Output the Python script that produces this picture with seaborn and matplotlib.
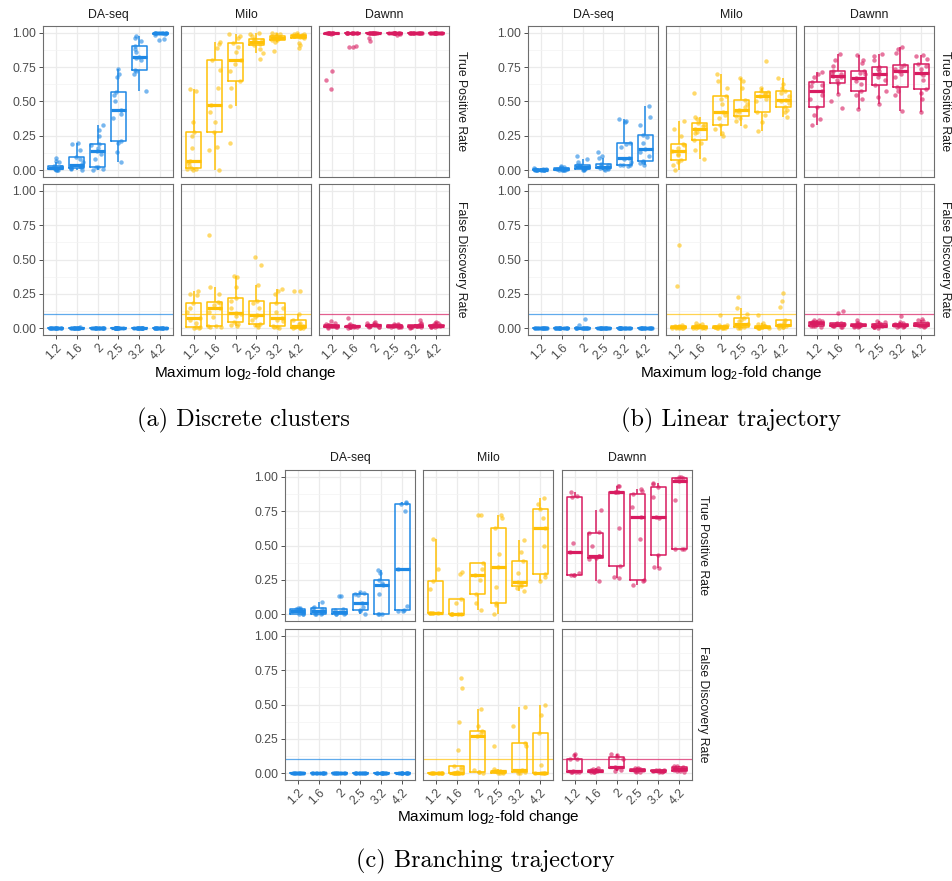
import numpy as np
import pandas as pd
import matplotlib
matplotlib.use("Agg")
import matplotlib.pyplot as plt
import seaborn as sns

# ---------------- data ----------------
FOLDS = ["1.2", "1.6", "2", "2.5", "3.2", "4.2"]
METHODS = ["DA-seq", "Milo", "Dawnn"]
METRICS = ["True Positive Rate", "False Discovery Rate"]
COLORS = ["#1E88E5", "#FFC107", "#D81B60"]
FDR_LINE = 0.1
Y_TICKS = [0.0, 0.25, 0.5, 0.75, 1.0]
Y_TICK_LABELS = ["0.00", "0.25", "0.50", "0.75", "1.00"]
CAPTIONS = ["(a) Discrete clusters", "(b) Linear trajectory", "(c) Branching trajectory"]
X_TITLE = "Maximum log$_2$-fold change"

# (a) Discrete clusters
A_TPR_DASEQ = [
    [0.0, 0.0, 0.003, 0.005, 0.01, 0.012, 0.015, 0.02, 0.025, 0.03, 0.06, 0.07, 0.09],
    [0.0, 0.01, 0.012, 0.015, 0.025, 0.03, 0.036, 0.06, 0.08, 0.097, 0.15, 0.19, 0.195],
    [0.0, 0.01, 0.02, 0.024, 0.08, 0.12, 0.136, 0.16, 0.18, 0.19, 0.25, 0.29, 0.33],
    [0.06, 0.13, 0.2, 0.214, 0.38, 0.41, 0.438, 0.5, 0.55, 0.567, 0.68, 0.7, 0.737],
    [0.574, 0.7, 0.72, 0.732, 0.8, 0.82, 0.827, 0.86, 0.88, 0.903, 0.94, 0.96, 0.976],
    [0.95, 0.952, 0.985, 0.995, 0.998, 1.0, 1.0, 1.0, 1.0, 1.0, 1.0, 1.0, 1.0],
]
A_TPR_MILO = [
    [0.0, 0.005, 0.01, 0.015, 0.04, 0.06, 0.068, 0.16, 0.25, 0.28, 0.35, 0.58, 0.59],
    [0.0, 0.15, 0.17, 0.28, 0.35, 0.42, 0.472, 0.6, 0.73, 0.8, 0.89, 0.92, 0.937],
    [0.2, 0.47, 0.6, 0.652, 0.72, 0.77, 0.8, 0.86, 0.9, 0.925, 0.96, 0.98, 0.99],
    [0.81, 0.85, 0.88, 0.908, 0.92, 0.925, 0.932, 0.945, 0.95, 0.956, 0.98, 0.99, 1.0],
    [0.87, 0.93, 0.945, 0.951, 0.96, 0.963, 0.966, 0.97, 0.975, 0.978, 0.99, 0.995, 1.0],
    [0.89, 0.91, 0.925, 0.963, 0.97, 0.972, 0.975, 0.98, 0.982, 0.985, 0.99, 0.995, 1.0],
]
A_TPR_DAWNN = [
    [0.59, 0.66, 0.72, 0.99, 1.0, 1.0, 1.0, 1.0, 1.0, 1.0, 1.0, 1.0, 1.0],
    [0.9, 0.9, 0.905, 1.0, 1.0, 1.0, 1.0, 1.0, 1.0, 1.0, 1.0, 1.0, 1.0],
    [0.94, 0.96, 1.0, 1.0, 1.0, 1.0, 1.0, 1.0, 1.0, 1.0, 1.0, 1.0, 1.0],
    [0.985, 0.99, 1.0, 1.0, 1.0, 1.0, 1.0, 1.0, 1.0, 1.0, 1.0, 1.0, 1.0],
    [1.0, 1.0, 1.0, 1.0, 1.0, 1.0, 1.0, 1.0, 1.0, 1.0, 1.0, 1.0, 1.0],
    [1.0, 1.0, 1.0, 1.0, 1.0, 1.0, 1.0, 1.0, 1.0, 1.0, 1.0, 1.0, 1.0],
]
A_FDR_DASEQ = [
    [0.0, 0.0, 0.0, 0.0, 0.0, 0.0, 0.0, 0.0, 0.0, 0.0, 0.0, 0.0, 0.0],
    [0.0, 0.0, 0.0, 0.0, 0.0, 0.0, 0.0, 0.0, 0.0, 0.0, 0.0, 0.0, 0.01],
    [0.0, 0.0, 0.0, 0.0, 0.0, 0.0, 0.0, 0.0, 0.0, 0.0, 0.0, 0.0, 0.0],
    [0.0, 0.0, 0.0, 0.0, 0.0, 0.0, 0.0, 0.0, 0.0, 0.0, 0.0, 0.0, 0.0],
    [0.0, 0.0, 0.0, 0.0, 0.0, 0.0, 0.0, 0.0, 0.0, 0.0, 0.0, 0.0, 0.0],
    [0.0, 0.0, 0.0, 0.0, 0.0, 0.0, 0.0, 0.0, 0.0, 0.0, 0.0, 0.0, 0.0],
]
A_FDR_MILO = [
    [0.0, 0.0, 0.005, 0.007, 0.04, 0.06, 0.073, 0.12, 0.15, 0.18, 0.24, 0.25, 0.27],
    [0.005, 0.01, 0.015, 0.017, 0.08, 0.12, 0.15, 0.17, 0.18, 0.19, 0.25, 0.3, 0.68],
    [0.015, 0.02, 0.03, 0.048, 0.09, 0.1, 0.109, 0.15, 0.2, 0.218, 0.3, 0.37, 0.38],
    [0.01, 0.02, 0.025, 0.031, 0.06, 0.08, 0.097, 0.15, 0.18, 0.199, 0.315, 0.46, 0.52],
    [0.0, 0.005, 0.01, 0.012, 0.05, 0.06, 0.073, 0.12, 0.15, 0.18, 0.25, 0.27, 0.283],
    [0.0, 0.0, 0.0, 0.003, 0.005, 0.008, 0.012, 0.03, 0.04, 0.056, 0.1, 0.27, 0.27],
]
A_FDR_DAWNN = [
    [0.0, 0.005, 0.008, 0.01, 0.012, 0.013, 0.015, 0.018, 0.02, 0.022, 0.03, 0.04, 0.055],
    [0.0, 0.005, 0.006, 0.008, 0.01, 0.011, 0.012, 0.015, 0.016, 0.018, 0.025, 0.03, 0.075],
    [0.005, 0.01, 0.011, 0.012, 0.015, 0.018, 0.02, 0.022, 0.024, 0.025, 0.035, 0.04, 0.045],
    [0.005, 0.008, 0.009, 0.01, 0.012, 0.014, 0.015, 0.017, 0.018, 0.02, 0.025, 0.028, 0.03],
    [0.0, 0.005, 0.007, 0.008, 0.01, 0.012, 0.013, 0.016, 0.018, 0.02, 0.03, 0.04, 0.06],
    [0.005, 0.01, 0.011, 0.012, 0.015, 0.017, 0.018, 0.022, 0.024, 0.026, 0.035, 0.04, 0.045],
]

# (b) Linear trajectory
B_TPR_DASEQ = [
    [0.0, 0.0, 0.0, 0.0, 0.0, 0.001, 0.002, 0.003, 0.004, 0.005, 0.008, 0.01, 0.012],
    [0.0, 0.0, 0.001, 0.002, 0.004, 0.005, 0.006, 0.008, 0.01, 0.012, 0.02, 0.025, 0.03],
    [0.0, 0.003, 0.005, 0.007, 0.012, 0.015, 0.02, 0.03, 0.035, 0.039, 0.06, 0.08, 0.1],
    [0.0, 0.005, 0.01, 0.012, 0.018, 0.02, 0.024, 0.03, 0.04, 0.044, 0.09, 0.1, 0.129],
    [0.03, 0.035, 0.037, 0.039, 0.06, 0.08, 0.092, 0.17, 0.19, 0.2, 0.35, 0.36, 0.375],
    [0.04, 0.05, 0.06, 0.066, 0.1, 0.13, 0.153, 0.2, 0.24, 0.258, 0.33, 0.39, 0.467],
]
B_TPR_MILO = [
    [0.0, 0.04, 0.06, 0.073, 0.11, 0.12, 0.136, 0.16, 0.18, 0.19, 0.25, 0.3, 0.355],
    [0.08, 0.15, 0.2, 0.219, 0.27, 0.28, 0.3, 0.32, 0.33, 0.34, 0.37, 0.385, 0.565],
    [0.25, 0.27, 0.3, 0.328, 0.38, 0.4, 0.421, 0.48, 0.52, 0.543, 0.6, 0.65, 0.7],
    [0.324, 0.36, 0.38, 0.397, 0.42, 0.43, 0.438, 0.46, 0.48, 0.508, 0.6, 0.65, 0.669],
    [0.285, 0.35, 0.4, 0.421, 0.5, 0.52, 0.543, 0.555, 0.56, 0.567, 0.58, 0.6, 0.795],
    [0.384, 0.42, 0.44, 0.457, 0.49, 0.5, 0.511, 0.54, 0.56, 0.579, 0.6, 0.63, 0.67],
]
B_TPR_DAWNN = [
    [0.33, 0.37, 0.4, 0.457, 0.52, 0.55, 0.579, 0.61, 0.62, 0.64, 0.68, 0.7, 0.718],
    [0.45, 0.5, 0.555, 0.638, 0.66, 0.675, 0.684, 0.7, 0.71, 0.725, 0.76, 0.8, 0.847],
    [0.445, 0.52, 0.55, 0.579, 0.63, 0.65, 0.669, 0.7, 0.71, 0.725, 0.78, 0.8, 0.842],
    [0.482, 0.53, 0.58, 0.62, 0.66, 0.68, 0.7, 0.72, 0.74, 0.75, 0.8, 0.83, 0.847],
    [0.428, 0.55, 0.58, 0.603, 0.68, 0.7, 0.725, 0.74, 0.75, 0.769, 0.85, 0.88, 0.9],
    [0.42, 0.52, 0.56, 0.591, 0.66, 0.69, 0.71, 0.74, 0.76, 0.774, 0.81, 0.83, 0.842],
]
B_FDR_DASEQ = [
    [0.0, 0.0, 0.0, 0.0, 0.0, 0.0, 0.0, 0.0, 0.0, 0.0, 0.0, 0.0, 0.0],
    [0.0, 0.0, 0.0, 0.0, 0.0, 0.0, 0.0, 0.0, 0.0, 0.0, 0.0, 0.0, 0.0],
    [0.0, 0.0, 0.0, 0.0, 0.0, 0.0, 0.0, 0.0, 0.0, 0.0, 0.0, 0.02, 0.068],
    [0.0, 0.0, 0.0, 0.0, 0.0, 0.0, 0.0, 0.0, 0.0, 0.0, 0.0, 0.0, 0.0],
    [0.0, 0.0, 0.0, 0.0, 0.0, 0.0, 0.0, 0.0, 0.0, 0.0, 0.0, 0.0, 0.0],
    [0.0, 0.0, 0.0, 0.0, 0.0, 0.0, 0.0, 0.0, 0.0, 0.0, 0.0, 0.0, 0.0],
]
B_FDR_MILO = [
    [0.0, 0.0, 0.0, 0.002, 0.004, 0.006, 0.008, 0.01, 0.012, 0.015, 0.02, 0.305, 0.605],
    [0.0, 0.0, 0.001, 0.002, 0.005, 0.006, 0.008, 0.01, 0.012, 0.014, 0.025, 0.03, 0.035],
    [0.0, 0.0, 0.001, 0.002, 0.004, 0.005, 0.006, 0.008, 0.01, 0.012, 0.02, 0.025, 0.095],
    [0.0, 0.003, 0.005, 0.007, 0.02, 0.025, 0.029, 0.05, 0.06, 0.073, 0.1, 0.145, 0.225],
    [0.0, 0.0, 0.001, 0.002, 0.005, 0.006, 0.008, 0.012, 0.015, 0.018, 0.03, 0.035, 0.095],
    [0.0, 0.005, 0.01, 0.012, 0.018, 0.021, 0.024, 0.03, 0.045, 0.056, 0.155, 0.2, 0.255],
]
B_FDR_DAWNN = [
    [0.005, 0.012, 0.015, 0.019, 0.028, 0.032, 0.036, 0.042, 0.045, 0.048, 0.055, 0.06, 0.062],
    [0.005, 0.01, 0.012, 0.015, 0.02, 0.022, 0.025, 0.03, 0.032, 0.035, 0.04, 0.11, 0.125],
    [0.005, 0.01, 0.012, 0.013, 0.016, 0.018, 0.02, 0.024, 0.026, 0.028, 0.035, 0.04, 0.06],
    [0.0, 0.005, 0.008, 0.01, 0.014, 0.016, 0.018, 0.022, 0.025, 0.028, 0.04, 0.045, 0.05],
    [0.005, 0.01, 0.012, 0.014, 0.018, 0.02, 0.022, 0.026, 0.028, 0.03, 0.04, 0.045, 0.09],
    [0.005, 0.012, 0.015, 0.017, 0.022, 0.024, 0.026, 0.03, 0.033, 0.036, 0.05, 0.06, 0.065],
]

# (c) Branching trajectory
C_TPR_DASEQ = [
    [0.0, 0.0, 0.0, 0.02, 0.02, 0.04, 0.04, 0.045, 0.045],
    [0.0, 0.0, 0.0, 0.01, 0.022, 0.04, 0.046, 0.05, 0.092],
    [0.0, 0.0, 0.0, 0.005, 0.014, 0.03, 0.034, 0.135, 0.135],
    [0.0, 0.02, 0.027, 0.05, 0.08, 0.14, 0.147, 0.155, 0.164],
    [0.0, 0.0, 0.002, 0.15, 0.215, 0.23, 0.249, 0.3, 0.32],
    [0.02, 0.02, 0.027, 0.06, 0.326, 0.75, 0.8, 0.81, 0.82],
]
C_TPR_MILO = [
    [0.005, 0.008, 0.01, 0.01, 0.01, 0.18, 0.239, 0.33, 0.546],
    [0.0, 0.0, 0.0, 0.0, 0.0, 0.08, 0.111, 0.29, 0.31],
    [0.027, 0.08, 0.147, 0.25, 0.285, 0.33, 0.372, 0.72, 0.722],
    [0.0, 0.07, 0.082, 0.2, 0.345, 0.44, 0.626, 0.7, 0.72],
    [0.17, 0.19, 0.208, 0.22, 0.232, 0.3, 0.389, 0.45, 0.539],
    [0.245, 0.27, 0.292, 0.5, 0.63, 0.7, 0.763, 0.8, 0.843],
]
C_TPR_DAWNN = [
    [0.285, 0.287, 0.287, 0.3, 0.454, 0.52, 0.853, 0.86, 0.89],
    [0.239, 0.4, 0.406, 0.42, 0.425, 0.5, 0.589, 0.6, 0.756],
    [0.265, 0.27, 0.35, 0.63, 0.891, 0.891, 0.891, 0.93, 0.937],
    [0.21, 0.245, 0.249, 0.55, 0.708, 0.78, 0.877, 0.9, 0.913],
    [0.336, 0.34, 0.43, 0.7, 0.708, 0.85, 0.928, 0.95, 0.952],
    [0.476, 0.478, 0.478, 0.83, 0.973, 0.985, 0.995, 1.0, 1.0],
]
C_FDR_DASEQ = [
    [0.0, 0.0, 0.0, 0.0, 0.0, 0.0, 0.0, 0.0, 0.0],
    [0.0, 0.0, 0.0, 0.0, 0.0, 0.0, 0.0, 0.0, 0.0],
    [0.0, 0.0, 0.0, 0.0, 0.0, 0.0, 0.0, 0.0, 0.0],
    [0.0, 0.0, 0.0, 0.0, 0.0, 0.0, 0.0, 0.0, 0.0],
    [0.0, 0.0, 0.0, 0.0, 0.0, 0.0, 0.0, 0.0, 0.0],
    [0.0, 0.0, 0.0, 0.0, 0.0, 0.0, 0.0, 0.0, 0.0],
]
C_FDR_MILO = [
    [0.0, 0.0, 0.0, 0.0, 0.0, 0.0, 0.0, 0.0, 0.0],
    [0.0, 0.0, 0.0, 0.0, 0.0, 0.0, 0.0, 0.0, 0.0, 0.01, 0.03, 0.045, 0.053, 0.165, 0.375, 0.62, 0.69],
    [0.0, 0.005, 0.005, 0.02, 0.274, 0.29, 0.31, 0.34, 0.465],
    [0.0, 0.0, 0.003, 0.008, 0.012, 0.015, 0.017, 0.03, 0.2],
    [0.0, 0.003, 0.007, 0.015, 0.024, 0.2, 0.218, 0.34, 0.484],
    [0.0, 0.0, 0.0, 0.0, 0.0, 0.06, 0.295, 0.42, 0.496],
]
C_FDR_DAWNN = [
    [0.005, 0.007, 0.007, 0.01, 0.012, 0.1, 0.102, 0.13, 0.138],
    [0.005, 0.007, 0.007, 0.012, 0.017, 0.02, 0.024, 0.03, 0.035],
    [0.015, 0.02, 0.036, 0.04, 0.044, 0.1, 0.114, 0.135, 0.138],
    [0.005, 0.01, 0.012, 0.018, 0.022, 0.027, 0.031, 0.035, 0.038],
    [0.008, 0.01, 0.012, 0.014, 0.016, 0.018, 0.02, 0.022, 0.024],
    [0.01, 0.015, 0.017, 0.025, 0.031, 0.04, 0.048, 0.05, 0.055],
]

PANEL_DATA = [
    [[A_TPR_DASEQ, A_TPR_MILO, A_TPR_DAWNN], [A_FDR_DASEQ, A_FDR_MILO, A_FDR_DAWNN]],
    [[B_TPR_DASEQ, B_TPR_MILO, B_TPR_DAWNN], [B_FDR_DASEQ, B_FDR_MILO, B_FDR_DAWNN]],
    [[C_TPR_DASEQ, C_TPR_MILO, C_TPR_DAWNN], [C_FDR_DASEQ, C_FDR_MILO, C_FDR_DAWNN]],
]


def to_frame(groups):
    rows = []
    for fold, vals in zip(FOLDS, groups):
        for v in vals:
            rows.append((fold, v))
    return pd.DataFrame(rows, columns=["fold", "value"])


# ---------------- style ----------------
sns.set_theme(style="white")
plt.rcParams["font.family"] = ["Liberation Sans", "DejaVu Sans"]
plt.rcParams["mathtext.fontset"] = "custom"
plt.rcParams["mathtext.rm"] = "Liberation Sans"
plt.rcParams["mathtext.it"] = "Liberation Sans:italic"
plt.rcParams["mathtext.bf"] = "Liberation Sans:bold"

W, H = 952, 881
fig = plt.figure(figsize=(W / 100, H / 100), dpi=100)
fig.patch.set_facecolor("white")


def px_axes(x, y, w, h):
    return fig.add_axes([x / W, 1 - (y + h) / H, w / W, h / H])


def ftext(x, y, s, **kw):
    fig.text(x / W, 1 - y / H, s, **kw)


LAYOUT = [
    dict(xs=[43, 181, 319], ys=[26, 184], strip_y=15, right_x=461, xlab=(245, 373), cap=(243, 420)),
    dict(xs=[528, 666, 804], ys=[26, 184], strip_y=15, right_x=945, xlab=(731, 373), cap=(731, 420)),
    dict(xs=[285, 423, 562], ys=[470, 629], strip_y=458, right_x=703, xlab=(488, 817), cap=(485, 861)),
]
PW, PH = 130, 151
BORDER = "#6E6E6E"

for p, lay in enumerate(LAYOUT):
    for r in range(2):
        for m in range(3):
            ax = px_axes(lay["xs"][m], lay["ys"][r], PW, PH)
            df = to_frame(PANEL_DATA[p][r][m])
            col = COLORS[m]
            sns.boxplot(data=df, x="fold", y="value", order=FOLDS, ax=ax,
                        color=col, fill=False, width=0.72, linewidth=1.1,
                        showfliers=False, showcaps=False, whis=1.5,
                        medianprops=dict(linewidth=2.3), zorder=2)
            np.random.seed(p * 10 + r * 3 + m)
            sns.stripplot(data=df, x="fold", y="value", order=FOLDS, ax=ax,
                          color=col, alpha=0.6, size=3.2, jitter=0.3,
                          linewidth=0, zorder=3)
            if r == 1:
                ax.axhline(FDR_LINE, color=col, lw=0.9, alpha=0.7, zorder=1.5)
            ax.set_xlim(-0.6, 5.6)
            ax.set_ylim(-0.05, 1.05)
            ax.set_yticks(Y_TICKS)
            ax.set_yticks([0.125, 0.375, 0.625, 0.875], minor=True)
            ax.set_xticks(range(len(FOLDS)))
            ax.set_axisbelow(True)
            ax.grid(True, which="major", color="#EBEBEB", linewidth=0.9)
            ax.grid(True, which="minor", axis="y", color="#F3F3F3", linewidth=0.5)
            ax.set_xlabel("")
            ax.set_ylabel("")
            for s in ax.spines.values():
                s.set_visible(True)
                s.set_color(BORDER)
                s.set_linewidth(0.8)
            ax.tick_params(which="minor", length=0)
            ax.tick_params(which="major", length=2.75, width=0.6, color="#333333",
                           labelsize=8.8, labelcolor="#4D4D4D", pad=2.2)
            if m == 0:
                ax.set_yticklabels(Y_TICK_LABELS)
                ax.tick_params(axis="y", left=True, labelleft=True)
            else:
                ax.tick_params(axis="y", left=False, labelleft=False)
            if r == 1:
                ax.set_xticklabels(FOLDS)
                ax.tick_params(axis="x", bottom=True, labelbottom=True)
                for lbl in ax.get_xticklabels():
                    lbl.set_rotation(45)
                    lbl.set_ha("right")
                    lbl.set_va("top")
                    lbl.set_rotation_mode("anchor")
            else:
                ax.tick_params(axis="x", bottom=False, labelbottom=False)
            if r == 0:
                ftext(lay["xs"][m] + PW / 2, lay["strip_y"], METHODS[m],
                      ha="center", va="center", fontsize=8.8, color="#1A1A1A")
        ftext(lay["right_x"], lay["ys"][r] + PH / 2, METRICS[r], rotation=270,
              ha="center", va="center", fontsize=8.8, color="#1A1A1A")
    ftext(lay["xlab"][0], lay["xlab"][1], X_TITLE, ha="center", va="center",
          fontsize=11, color="black")
    ftext(lay["cap"][0], lay["cap"][1], CAPTIONS[p], ha="center", va="center",
          fontsize=17.5, family=["cmr10", "DejaVu Serif"], color="black")

fig.savefig("out.png", dpi=100, facecolor="white")
